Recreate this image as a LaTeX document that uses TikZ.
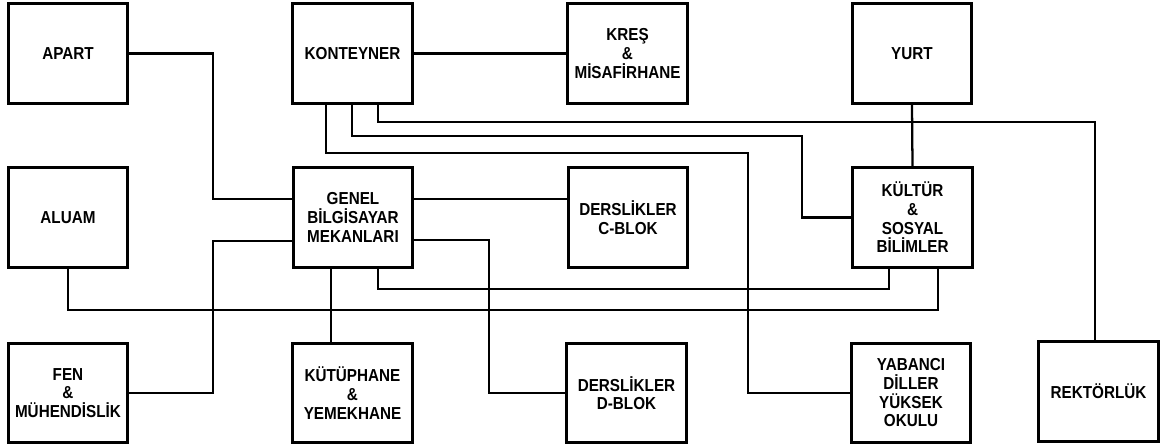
\documentclass[tikz,border=0pt]{standalone}
\usepackage{fontspec}
\setmainfont{Liberation Sans}[FakeStretch=0.88]
\begin{document}
\begin{tikzpicture}[x=0.75pt,y=-0.75pt,
  box/.style={draw=black,line width=2.2pt,minimum width=89.5pt,minimum height=74.5pt,
    inner sep=1pt,align=center,font=\fontsize{13}{14}\selectfont\bfseries,fill=white},
  link/.style={draw=black,line width=1.7pt}]
\useasboundingbox[fill=white] (0,0) rectangle (1164,448);
% connectors first (under boxes)
\node[box] (apart) at (68,53.5) {APART};
\node[box] (konteyner) at (352.5,53.5) {KONTEYNER};
\node[box] (kres) at (627.5,53.5) {KREŞ\\\&\\MİSAFİRHANE};
\node[box] (yurt) at (912,53.5) {YURT};
\node[box] (aluam) at (68,217.5) {ALUAM};
\node[box] (genel) at (353,217.5) {GENEL\\BİLGİSAYAR\\MEKANLARI};
\node[box] (cblok) at (628,217.5) {DERSLİKLER\\C-BLOK};
\node[box] (kultur) at (912.5,217.5) {KÜLTÜR\\\&\\SOSYAL\\BİLİMLER};
\node[box] (fen) at (68,393) {FEN\\\&\\MÜHENDİSLİK};
\node[box] (kutuphane) at (352.5,393) {KÜTÜPHANE\\\&\\YEMEKHANE};
\node[box] (dblok) at (626.5,393) {DERSLİKLER\\D-BLOK};
\node[box] (yabanci) at (911,393) {YABANCI\\DİLLER\\YÜKSEK\\OKULU};
\node[box] (rektorluk) at (1098.5,391.5) {REKTÖRLÜK};
% connectors
\draw[link] (apart.east) -| (213,199) -- (genel.west |- 0,199);
\draw[link] (konteyner.east) -- (kres.west);
\draw[link] (konteyner.south -| 378,0) |- (1095,122) -- (rektorluk.north -| 1095,0);
\draw[link] (konteyner.south -| 352,0) |- (802,136) |- (kultur.west);
\draw[link] (konteyner.south -| 326,0) |- (748,153) |- (yabanci.west);
\draw[link] (yurt.south) -- (kultur.north);
\draw[link] (genel.east |- 0,199) -- (cblok.west |- 0,199);
\draw[link] (genel.east |- 0,240) -| (489,300) |- (dblok.west);
\draw[link] (genel.west |- 0,241) -| (213,300) |- (fen.east);
\draw[link] (genel.south -| 331,0) -- (kutuphane.north -| 331,0);
\draw[link] (genel.south -| 378,0) |- (889,289) -- (kultur.south -| 889,0);
\draw[link] (aluam.south) |- (938,310) -- (kultur.south -| 938,0);
\end{tikzpicture}
\end{document}
